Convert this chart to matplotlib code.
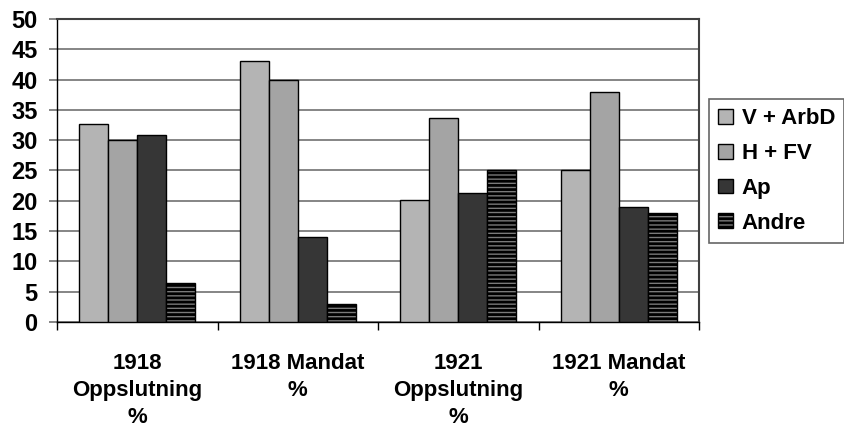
import numpy as np
import matplotlib.pyplot as plt

# Data
categories = ["1918\nOppslutning\n%", "1918 Mandat\n%", "1921\nOppslutning\n%", "1921 Mandat\n%"]
series_names = ["V + ArbD", "H + FV", "Ap", "Andre"]
v_arbd = [32.7, 43.1, 20.1, 25.0]
h_fv = [30.0, 40.0, 33.7, 38.0]
ap = [30.9, 14.0, 21.3, 19.0]
andre = [6.4, 3.0, 25.1, 18.0]

colors = ["#b4b4b4", "#a4a4a4", "#363636", "#7a7a7a"]
hatches = [None, None, None, "----"]

plt.rcParams['font.family'] = ['Liberation Sans', 'DejaVu Sans']
plt.rcParams['font.weight'] = 'bold'
plt.rcParams['hatch.color'] = '#333333'
plt.rcParams['hatch.linewidth'] = 2.0

fig = plt.figure(figsize=(8.44, 4.30), dpi=100)
ax = fig.add_axes([57 / 844, 1 - 322 / 430, (699 - 57) / 844, (322 - 19) / 430])

x = np.arange(len(categories))
width = 0.18
all_series = [v_arbd, h_fv, ap, andre]
for i, (name, vals) in enumerate(zip(series_names, all_series)):
    ax.bar(x + (i - 1.5) * width, vals, width, label=name, color=colors[i],
           edgecolor="black", linewidth=1.0, hatch=hatches[i], zorder=3)

ax.set_xlim(-0.5, len(categories) - 0.5)
ax.set_ylim(0, 50)
ax.set_yticks(np.arange(0, 51, 5))
ax.yaxis.grid(True, color="#858585", linewidth=1.4, zorder=0)

# ticks between categories, labels centred
ax.set_xticks(np.arange(-0.5, len(categories), 1))
ax.set_xticklabels([])
ax.set_xticks(x, minor=True)
ax.set_xticklabels(categories, minor=True, fontsize=16, fontweight='bold', linespacing=1.4)
ax.tick_params(axis='x', which='minor', length=0, pad=22)
ax.tick_params(axis='x', which='major', length=6, width=1, direction='out')
ax.tick_params(axis='y', length=6, width=1.4, color="#858585", direction='out',
               labelsize=17, pad=8)
for lbl in ax.get_yticklabels():
    lbl.set_fontweight('bold')

for side in ['top', 'right']:
    ax.spines[side].set_color('#404040')
    ax.spines[side].set_linewidth(1.5)
ax.spines['left'].set_linewidth(1.0)
ax.spines['bottom'].set_linewidth(1.0)

leg = fig.legend(loc='upper left', bbox_to_anchor=(709 / 844, 1 - 99 / 430), frameon=True,
                 fancybox=False, edgecolor='#404040',
                 prop={'weight': 'bold', 'size': 16},
                 handlelength=0.65, handleheight=0.65, handletextpad=0.4,
                 labelspacing=0.62, borderpad=0.42, borderaxespad=0)
leg.get_frame().set_linewidth(1.2)

fig.savefig("out.png", dpi=100)
